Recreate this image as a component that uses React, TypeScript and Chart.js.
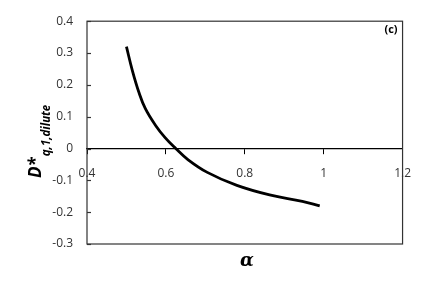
import React, { useEffect, useRef } from "react";
import { Chart, registerables } from "chart.js";

Chart.register(...registerables);

const alphaValues = [0.5, 0.515, 0.532, 0.548, 0.573, 0.598, 0.625, 0.655, 0.705, 0.78, 0.863, 0.946, 0.99];
const dValues = [0.32, 0.245, 0.175, 0.125, 0.074, 0.034, 0.0, -0.034, -0.075, -0.116, -0.146, -0.166, -0.18];
const xTickRange = { min: 0.4, max: 1.2, step: 0.2 };
const yTickRange = { min: -0.3, max: 0.4, step: 0.1 };
const panelLabel = "(c)";
const xTitle = "α";
const yTitleMain = "D*";
const yTitleSub = "q,1,dilute";

const fmt = (v: number) => String(Number(Number(v).toFixed(2)));

export default function App() {
  const ref = useRef<HTMLCanvasElement | null>(null);
  useEffect(() => {
    if (!ref.current) return;
    const decor = {
      id: "decor",
      afterDraw(chart: any) {
        const { ctx, chartArea } = chart;
        const { left, right, top, bottom } = chartArea;
        ctx.save();
        ctx.strokeStyle = "#333";
        ctx.lineWidth = 1.2;
        ctx.strokeRect(left, top, right - left, bottom - top);
        const ys = chart.scales.y;
        ys.ticks.forEach((t: any) => {
          const py = Math.round(ys.getPixelForValue(t.value)) + 0.5;
          ctx.beginPath();
          ctx.moveTo(left, py);
          ctx.lineTo(left + 4, py);
          ctx.stroke();
        });
        ctx.fillStyle = "#000";
        ctx.font = "bold 11px 'Open Sans', sans-serif";
        ctx.textAlign = "center";
        ctx.textBaseline = "middle";
        ctx.fillText(panelLabel, 391, 30);
        ctx.font = "italic bold 18px 'DejaVu Serif', serif";
        ctx.fillText(xTitle, 247, 261);
        ctx.translate(41, 178);
        ctx.rotate(-Math.PI / 2);
        ctx.textAlign = "left";
        ctx.textBaseline = "alphabetic";
        ctx.font = "italic bold 17px 'Open Sans', sans-serif";
        ctx.fillText(yTitleMain, 0, 0);
        const w = ctx.measureText(yTitleMain).width;
        ctx.font = "italic bold 11.5px 'Open Sans', sans-serif";
        ctx.fillText(yTitleSub, w + 1, 9);
        ctx.restore();
      },
    };
    const chart = new Chart(ref.current, {
      type: "line",
      data: {
        datasets: [
          {
            data: alphaValues.map((a, i) => ({ x: a, y: dValues[i] })),
            borderColor: "#000",
            borderWidth: 2.8,
            pointRadius: 0,
            tension: 0.4,
            fill: false,
          },
        ],
      },
      options: {
        animation: false,
        responsive: false,
        maintainAspectRatio: false,
        layout: { padding: { left: 0, top: 12, right: 15, bottom: 47 } },
        plugins: { legend: { display: false }, tooltip: { enabled: false } },
        scales: {
          x: {
            type: "linear",
            position: { y: 0 } as any,
            min: xTickRange.min,
            max: xTickRange.max,
            grid: { display: true, drawOnChartArea: false, drawTicks: true, tickLength: 5, color: "#000" },
            border: { display: true, color: "#000", width: 1.2 },
            ticks: {
              stepSize: xTickRange.step,
              padding: 13,
              color: "#333",
              font: { family: "'Open Sans', sans-serif", size: 12 },
              callback: (v: any) => fmt(v),
              maxRotation: 0,
            },
          },
          y: {
            type: "linear",
            min: yTickRange.min,
            max: yTickRange.max,
            afterFit: (s: any) => {
              s.width = 87;
            },
            grid: { display: false, drawTicks: false },
            border: { display: false },
            ticks: {
              stepSize: yTickRange.step,
              padding: 14,
              color: "#333",
              font: { family: "'Open Sans', sans-serif", size: 12 },
              callback: (v: any) => fmt(v),
            },
          },
        },
      },
      plugins: [decor],
    });
    return () => chart.destroy();
  }, []);
  return (
    <div style={{ position: "fixed", left: 0, top: 0, width: 424, height: 291, background: "#fff" }}>
      <canvas ref={ref} width={424} height={291} />
    </div>
  );
}
